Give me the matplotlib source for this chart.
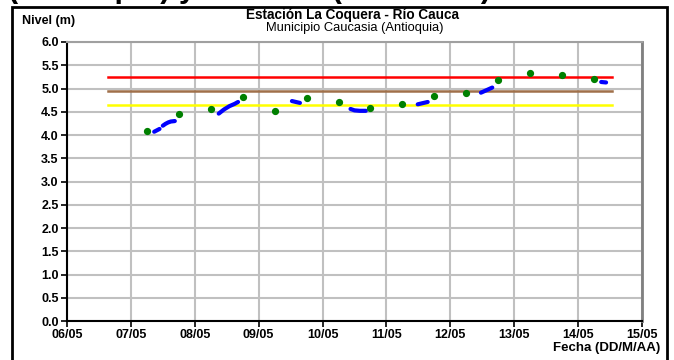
import matplotlib
matplotlib.use("Agg")
import matplotlib.pyplot as plt
from matplotlib.patches import Rectangle
import numpy as np
import datetime as dt

plt.rcParams['font.family'] = ['Liberation Sans', 'DejaVu Sans']

# ---- data ----
title = "Estación La Coquera - Río Cauca"
subtitle = "Municipio Caucasia (Antioquia)"
ylabel = "Nivel (m)"
xlabel = "Fecha (DD/M/AA)"
heading = "(Municipio) y Cáceres (Colombia)"
x_ticklabels = ["06/05", "07/05", "08/05", "09/05", "10/05", "11/05", "12/05", "13/05", "14/05", "15/05"]
y_ticks = [0.0, 0.5, 1.0, 1.5, 2.0, 2.5, 3.0, 3.5, 4.0, 4.5, 5.0, 5.5, 6.0]

# manual readings (green points)
manual_times = ["2021-05-07 06:00", "2021-05-07 18:00", "2021-05-08 06:00", "2021-05-08 18:00",
                "2021-05-09 06:00", "2021-05-09 18:00", "2021-05-10 06:00", "2021-05-10 18:00",
                "2021-05-11 06:00", "2021-05-11 18:00", "2021-05-12 06:00", "2021-05-12 18:00",
                "2021-05-13 06:00", "2021-05-13 18:00", "2021-05-14 06:00"]
manual_values = [4.08, 4.46, 4.56, 4.81, 4.52, 4.79, 4.71, 4.59, 4.67, 4.83, 4.91, 5.19, 5.33, 5.28, 5.21]

# automatic sensor readings (blue), None marks gaps
sensor_times = ["2021-05-07 08:45", "2021-05-07 10:45", None,
                "2021-05-07 12:00", "2021-05-07 13:00", "2021-05-07 14:00", "2021-05-07 15:00", "2021-05-07 16:30", None,
                "2021-05-08 09:00", "2021-05-08 11:00", "2021-05-08 13:00", "2021-05-08 15:00", "2021-05-08 16:15", None,
                "2021-05-09 12:30", "2021-05-09 15:30", None,
                "2021-05-10 10:30", "2021-05-10 12:00", "2021-05-10 14:00", "2021-05-10 16:15", None,
                "2021-05-11 11:45", "2021-05-11 15:30", None,
                "2021-05-12 11:30", "2021-05-12 15:45", None,
                "2021-05-14 08:40", "2021-05-14 10:30"]
sensor_values = [4.07, 4.13, None,
                 4.20, 4.24, 4.27, 4.29, 4.30, None,
                 4.46, 4.55, 4.62, 4.67, 4.71, None,
                 4.73, 4.69, None,
                 4.56, 4.53, 4.52, 4.52, None,
                 4.66, 4.71, None,
                 4.91, 5.02, None,
                 5.14, 5.13]

# alert thresholds
threshold_start = "2021-05-06 15:20"
threshold_end = "2021-05-14 12:40"
threshold_values = [5.25, 4.95, 4.65]
threshold_colors = ["#ff0000", "#a0704a", "#ffff00"]

x_start = "2021-05-06 00:00"
x_end = "2021-05-15 00:00"

# ---- plotting ----
def P(s):
    return dt.datetime.strptime(s, "%Y-%m-%d %H:%M")

fig = plt.figure(figsize=(6.74, 3.6), dpi=100)
ax = fig.add_axes([67/674, 1-321/360, (642-67)/674, (321-42)/360])

x0, x1 = P(x_start), P(x_end)
tick_dates = [x0 + dt.timedelta(days=i) for i in range(len(x_ticklabels))]

ax.set_xlim(x0, x1)
ax.set_ylim(0, 6)
ax.set_xticks(tick_dates)
ax.set_xticklabels(x_ticklabels)
ax.set_yticks(y_ticks)
ax.set_yticklabels([f"{v:.1f}" for v in y_ticks])
ax.grid(True, color="#c0c0c0", linewidth=1.5, zorder=0)
ax.set_axisbelow(True)
ax.tick_params(direction='out', length=4, width=1.2, colors='black', labelsize=9, pad=2)
for lab in ax.get_xticklabels() + ax.get_yticklabels():
    lab.set_fontweight('bold')
ax.spines['left'].set_color('black')
ax.spines['bottom'].set_color('black')
ax.spines['left'].set_linewidth(1.5)
ax.spines['bottom'].set_linewidth(1.5)
ax.spines['top'].set_color('#a0a0a0')
ax.spines['right'].set_color('#808080')
ax.spines['top'].set_linewidth(1.5)
ax.spines['right'].set_linewidth(2.0)

ts, te = P(threshold_start), P(threshold_end)
for v, c in zip(threshold_values, threshold_colors):
    ax.plot([ts, te], [v, v], color=c, linewidth=1.8, zorder=2)

st = [P(t) if t is not None else None for t in sensor_times]
sv = [v if v is not None else np.nan for v in sensor_values]
seg_t, seg_v = [], []
for t, v in zip(st, sv):
    if t is None:
        if seg_t:
            ax.plot(seg_t, seg_v, color="#0000ff", linewidth=3.0, solid_capstyle='round', zorder=3)
        seg_t, seg_v = [], []
    else:
        seg_t.append(t); seg_v.append(v)
if seg_t:
    ax.plot(seg_t, seg_v, color="#0000ff", linewidth=3.0, solid_capstyle='round', zorder=3)

ax.plot([P(t) for t in manual_times], manual_values, linestyle='none', marker='o',
        markersize=4.2, color="#008000", zorder=4)

# texts
fig.text(352/674, 1-15/360, title, ha='center', va='center', fontsize=9.8, fontweight='bold')
fig.text(355/674, 1-28/360, subtitle, ha='center', va='center', fontsize=9.3)
fig.text(22/674, 1-21/360, ylabel, ha='left', va='center', fontsize=9, fontweight='bold')
fig.text(660/674, 1-348/360, xlabel, ha='right', va='center', fontsize=9.5, fontweight='bold')

# cut-off heading above the frame (only its descenders are visible in the reference)
fig.text(8/674, 1.0 + 3/360, heading, ha='left', va='baseline',
         fontsize=22, fontweight='bold')

# outer frame
fig.patches.append(Rectangle((12/674, -0.05), (667-12)/674, 1.05 - 7/360, transform=fig.transFigure,
                             fill=False, edgecolor='black', linewidth=2.0))

fig.savefig("out.png", dpi=100)
